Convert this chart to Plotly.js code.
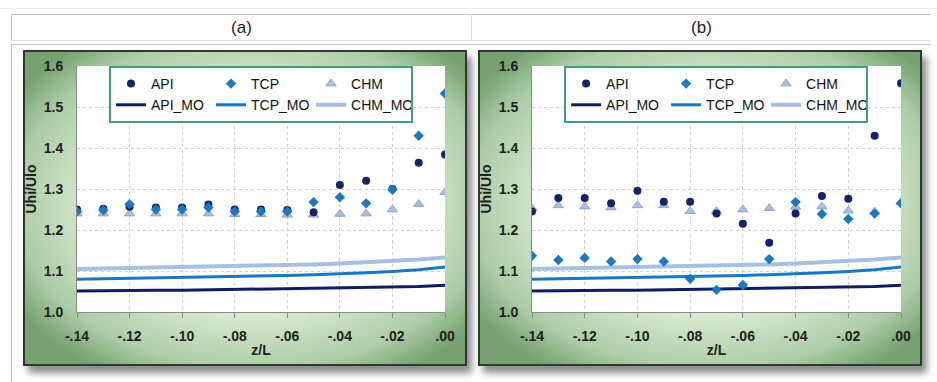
<!DOCTYPE html>
<html>
<head>
<meta charset="utf-8">
<script src="https://cdn.plot.ly/plotly-3.0.1.min.js"></script>
<style>
  html, body { margin:0; padding:0; background:#fff; }
  body { width:937px; height:382px; position:relative; overflow:hidden; font-family:Arial, "Liberation Sans", sans-serif; }
  .hline { position:absolute; height:0; border-top:1px solid #c4c4c4; }
  .vline { position:absolute; width:0; border-left:1px solid #c4c4c4; }
  .hdr { position:absolute; top:15px; height:25px; line-height:25px; text-align:center; font-size:17px; color:#222; }
  .frame { position:absolute; top:50px; width:444px; height:316px; box-sizing:border-box;
           border:2px solid #2c3a2c;
           background: radial-gradient(ellipse 64% 64% at 52% 48%, #f4faf1 0%, #dfeed8 52%, #acccA6 84%, #76a272 100%);
           box-shadow: 5px 7px 7px rgba(0,0,0,0.45); }
  .plot { position:absolute; top:50px; width:444px; height:316px; }
</style>
</head>
<body>
<div class="hline" style="left:0;top:8px;width:937px;border-color:#eee"></div>
<div class="hline" style="left:11px;top:14px;width:920px"></div>
<div class="hline" style="left:11px;top:40px;width:920px;border-color:#ddd"></div>
<div class="hline" style="left:11px;top:44px;width:920px"></div>
<div class="vline" style="left:11px;top:14px;height:26px"></div>
<div class="vline" style="left:471px;top:14px;height:26px;border-color:#ddd"></div>
<div class="vline" style="left:11px;top:44px;height:340px"></div>
<div class="hdr" style="left:12px;width:459px">(a)</div>
<div class="hdr" style="left:472px;width:459px">(b)</div>

<div class="frame" style="left:23px"></div>
<div class="frame" style="left:478px"></div>
<div id="pa" class="plot" style="left:23px"></div>
<div id="pb" class="plot" style="left:478px"></div>

<script>
// ---- data ----
const zL = [-0.14,-0.13,-0.12,-0.11,-0.10,-0.09,-0.08,-0.07,-0.06,-0.05,-0.04,-0.03,-0.02,-0.01,0.00];

const apiA = [1.250,1.252,1.257,1.255,1.255,1.262,1.250,1.250,1.249,1.243,1.310,1.320,1.300,1.364,1.384];
const tcpA = [1.245,1.248,1.263,1.250,1.250,1.255,1.245,1.245,1.245,1.268,1.280,1.265,1.298,1.430,1.533];
const chmA = [1.240,1.240,1.240,1.240,1.240,1.240,1.238,1.238,1.237,1.237,1.239,1.240,1.250,1.263,1.292];

const apiB = [1.245,1.278,1.278,1.265,1.296,1.269,1.269,1.240,1.215,1.169,1.240,1.283,1.276,1.430,1.558];
const tcpB = [1.137,1.127,1.132,1.123,1.129,1.123,1.081,1.054,1.066,1.129,1.268,1.239,1.227,1.240,1.265];
const chmB = [1.253,1.260,1.257,1.255,1.260,1.260,1.246,1.246,1.250,1.253,1.256,1.257,1.247,1.245,1.268];

const apiMO = [1.051,1.052,1.052,1.053,1.053,1.054,1.054,1.055,1.056,1.057,1.058,1.059,1.060,1.062,1.065];
const tcpMO = [1.080,1.081,1.082,1.083,1.084,1.085,1.086,1.088,1.089,1.091,1.093,1.096,1.099,1.103,1.110];
const chmMO = [1.105,1.106,1.107,1.108,1.109,1.110,1.111,1.113,1.114,1.116,1.118,1.121,1.124,1.128,1.133];

const xTickVals = [-0.14,-0.12,-0.10,-0.08,-0.06,-0.04,-0.02,0.00];
const xTickText = ['-.14','-.12','-.10','-.08','-.06','-.04','-.02','.00'];
const yTickVals = [1.0,1.1,1.2,1.3,1.4,1.5,1.6];

// ---- styles ----
const C = { api:'#14236b', tcp:'#1c78c0', chm:'#a9bfdd', chmEdge:'#8ea6c9',
            apiMO:'#0f1e5e', tcpMO:'#1978c1', chmMO:'#a7c0e1' };

function traces(api, tcp, chm) {
  return [
    {x:zL, y:chmMO, name:'CHM_MO', mode:'lines', line:{color:C.chmMO, width:4}, legendrank:6},
    {x:zL, y:tcpMO, name:'TCP_MO', mode:'lines', line:{color:C.tcpMO, width:3}, legendrank:5},
    {x:zL, y:apiMO, name:'API_MO', mode:'lines', line:{color:C.apiMO, width:3}, legendrank:4},
    {x:zL, y:chm, name:'CHM', mode:'markers', marker:{symbol:'triangle-up', size:9, color:C.chm, line:{color:C.chmEdge, width:1}}, legendrank:3},
    {x:zL, y:api, name:'API', mode:'markers', marker:{symbol:'circle', size:8, color:C.api}, legendrank:1},
    {x:zL, y:tcp, name:'TCP', mode:'markers', marker:{symbol:'diamond', size:8, color:C.tcp}, legendrank:2}
  ];
}

function layout(r) {
  const tf = {family:'Arial, Liberation Sans, sans-serif', size:14, color:'#1e1e1e', weight:'bold'};
  return {
    width:444, height:316,
    margin:{l:54, r:r, t:16, b:54},
    paper_bgcolor:'rgba(0,0,0,0)',
    plot_bgcolor:'#ffffff',
    showlegend:true,
    legend:{
      orientation:'h', x:0.087, xanchor:'left', y:1.0, yanchor:'top',
      bgcolor:'#ffffff', bordercolor:'#3e9f7f', borderwidth:2,
      font:{family:'Arial, Liberation Sans, sans-serif', size:14, color:'#111'},
      entrywidth:55, entrywidthmode:'pixels', traceorder:'normal',
      itemwidth:30, tracegroupgap:0
    },
    xaxis:{
      range:[-0.14, 0.0], tickvals:xTickVals, ticktext:xTickText,
      showgrid:true, gridcolor:'#cfcfcf', griddash:'dot', gridwidth:1,
      zeroline:false, showline:true, linecolor:'#8a8a8a', linewidth:1,
      ticks:'outside', ticklen:5, tickcolor:'#8a8a8a', ticklabelstandoff:6,
      tickfont:tf, title:{text:'z/L', font:tf, standoff:2}, fixedrange:true
    },
    yaxis:{
      range:[1.0, 1.6], tickvals:yTickVals, tickformat:'.1f',
      showgrid:true, gridcolor:'#cfcfcf', griddash:'dot', gridwidth:1,
      zeroline:false, showline:true, linecolor:'#8a8a8a', linewidth:1,
      ticks:'', ticklabelstandoff:10,
      tickfont:tf, title:{text:'Uhi/Ulo', font:tf, standoff:4}, fixedrange:true
    }
  };
}

Plotly.newPlot('pa', traces(apiA, tcpA, chmA), layout(22), {displayModeBar:false, staticPlot:true});
Plotly.newPlot('pb', traces(apiB, tcpB, chmB), layout(21), {displayModeBar:false, staticPlot:true});
</script>
</body>
</html>
